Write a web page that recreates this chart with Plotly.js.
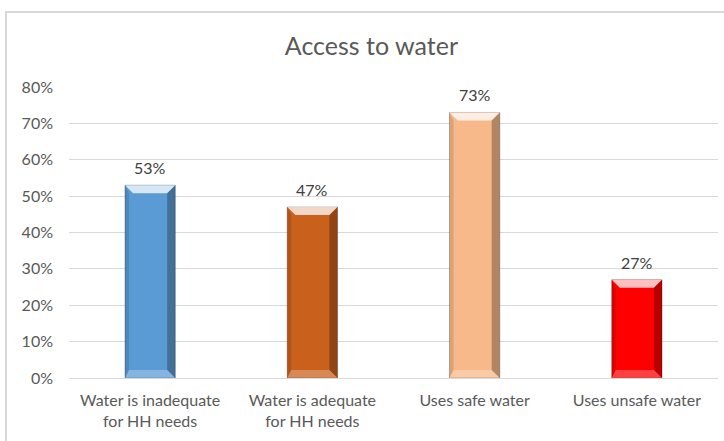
<!DOCTYPE html>
<html>
<head>
<meta charset="utf-8">
<script src="https://cdn.plot.ly/plotly-3.0.1.min.js"></script>
<style>
  html, body { margin: 0; padding: 0; background: #fff; }
  #wrap { position: relative; width: 724px; height: 441px; overflow: hidden; }
  #frame { position: absolute; left: 5px; top: 11px; width: 740px; height: 460px;
           border-top: 2px solid #d9d9d9; border-left: 2px solid #d9d9d9; box-sizing: border-box; pointer-events: none; }
  #chart { position: absolute; left: 0; top: 0; width: 724px; height: 441px; }
</style>
</head>
<body>
<div id="wrap">
  <div id="chart"></div>
  <div id="frame"></div>
</div>
<script>
const categories = ["Water is inadequate<br>for HH needs", "Water is adequate<br>for HH needs", "Uses safe water", "Uses unsafe water"];
const values = [0.53, 0.47, 0.73, 0.27];
const barColors = ["#5B9BD5", "#C9601C", "#F8B98A", "#FF0000"];
const yTickVals = [0, 0.1, 0.2, 0.3, 0.4, 0.5, 0.6, 0.7, 0.8];

const FONT = 'Lato, "Open Sans", sans-serif';
const barWidth = 0.31;
const half = barWidth / 2;
const bx = 0.05;   // bevel width (category units)
const by = 0.022;  // bevel height (value units)

const shapes = [];
values.forEach((v, i) => {
  const l = i - half, r = i + half;
  shapes.push({type: 'path', xref: 'x', yref: 'y', layer: 'above',
    path: `M ${l} ${v} L ${r} ${v} L ${r - bx} ${v - by} L ${l + bx} ${v - by} Z`,
    fillcolor: 'rgba(255,255,255,0.75)', line: {width: 0}});
  shapes.push({type: 'path', xref: 'x', yref: 'y', layer: 'above',
    path: `M ${r} ${v} L ${r} 0 L ${r - bx} ${by} L ${r - bx} ${v - by} Z`,
    fillcolor: 'rgba(0,0,0,0.28)', line: {width: 0}});
  shapes.push({type: 'path', xref: 'x', yref: 'y', layer: 'above',
    path: `M ${l} ${v} L ${l} 0 L ${l + bx * 0.5} ${by} L ${l + bx * 0.5} ${v - by} Z`,
    fillcolor: 'rgba(0,0,0,0.12)', line: {width: 0}});
  shapes.push({type: 'path', xref: 'x', yref: 'y', layer: 'above',
    path: `M ${l} 0 L ${r} 0 L ${r - bx} ${by} L ${l + bx * 0.5} ${by} Z`,
    fillcolor: 'rgba(255,255,255,0.25)', line: {width: 0}});
});

const annotations = values.map((v, i) => ({
  x: i, y: v, xref: 'x', yref: 'y',
  text: Math.round(v * 100) + '%',
  showarrow: false, yanchor: 'bottom', yshift: 6,
  font: {family: FONT, size: 16, color: '#404040'}
}));

const trace = {
  type: 'bar',
  x: [0, 1, 2, 3],
  y: values,
  width: barWidth,
  marker: {color: barColors, line: {color: 'rgba(0,0,0,0.25)', width: 1}},
  hoverinfo: 'none'
};

const layout = {
  width: 724, height: 441,
  margin: {l: 69, r: 6, t: 87, b: 63},
  paper_bgcolor: 'rgba(0,0,0,0)',
  plot_bgcolor: 'rgba(0,0,0,0)',
  showlegend: false,
  title: {text: 'Access to water', x: 0.513, xanchor: 'center', y: 0.895, yanchor: 'middle',
          font: {family: FONT, size: 25, color: '#595959'}},
  xaxis: {
    tickmode: 'array', tickvals: [0, 1, 2, 3], ticktext: categories,
    range: [-0.5, 3.5], showgrid: false, zeroline: false,
    showline: true, linecolor: '#d9d9d9', linewidth: 1,
    ticks: '', ticklabelstandoff: 8,
    tickfont: {family: FONT, size: 16, color: '#595959'}
  },
  yaxis: {
    range: [0, 0.8], tickvals: yTickVals, tickformat: '.0%',
    showgrid: true, gridcolor: '#d9d9d9', gridwidth: 1, zeroline: false,
    ticks: '', ticklabelstandoff: 15,
    tickfont: {family: FONT, size: 16, color: '#595959'}
  },
  shapes: shapes,
  annotations: annotations
};

Plotly.newPlot('chart', [trace], layout, {staticPlot: true, displayModeBar: false});
</script>
</body>
</html>
